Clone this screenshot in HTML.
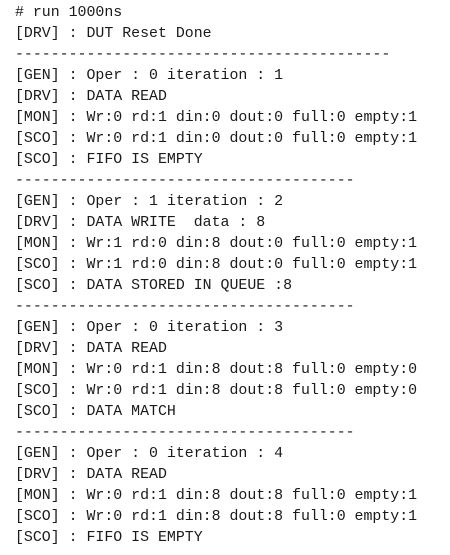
<!DOCTYPE html>
<html><head><meta charset="utf-8"><style>
html,body{margin:0;padding:0;background:#fff;width:450px;height:555px;overflow:hidden}
pre{margin:0;padding:3px 0 0 15px;font-family:"Liberation Mono","Courier New",monospace;font-size:14.9px;line-height:21px;color:#1a1a1a}
</style></head><body><pre># run 1000ns
[DRV] : DUT Reset Done
------------------------------------------
[GEN] : Oper : 0 iteration : 1
[DRV] : DATA READ
[MON] : Wr:0 rd:1 din:0 dout:0 full:0 empty:1
[SCO] : Wr:0 rd:1 din:0 dout:0 full:0 empty:1
[SCO] : FIFO IS EMPTY
--------------------------------------
[GEN] : Oper : 1 iteration : 2
[DRV] : DATA WRITE  data : 8
[MON] : Wr:1 rd:0 din:8 dout:0 full:0 empty:1
[SCO] : Wr:1 rd:0 din:8 dout:0 full:0 empty:1
[SCO] : DATA STORED IN QUEUE :8
--------------------------------------
[GEN] : Oper : 0 iteration : 3
[DRV] : DATA READ
[MON] : Wr:0 rd:1 din:8 dout:8 full:0 empty:0
[SCO] : Wr:0 rd:1 din:8 dout:8 full:0 empty:0
[SCO] : DATA MATCH
--------------------------------------
[GEN] : Oper : 0 iteration : 4
[DRV] : DATA READ
[MON] : Wr:0 rd:1 din:8 dout:8 full:0 empty:1
[SCO] : Wr:0 rd:1 din:8 dout:8 full:0 empty:1
[SCO] : FIFO IS EMPTY</pre></body></html>
